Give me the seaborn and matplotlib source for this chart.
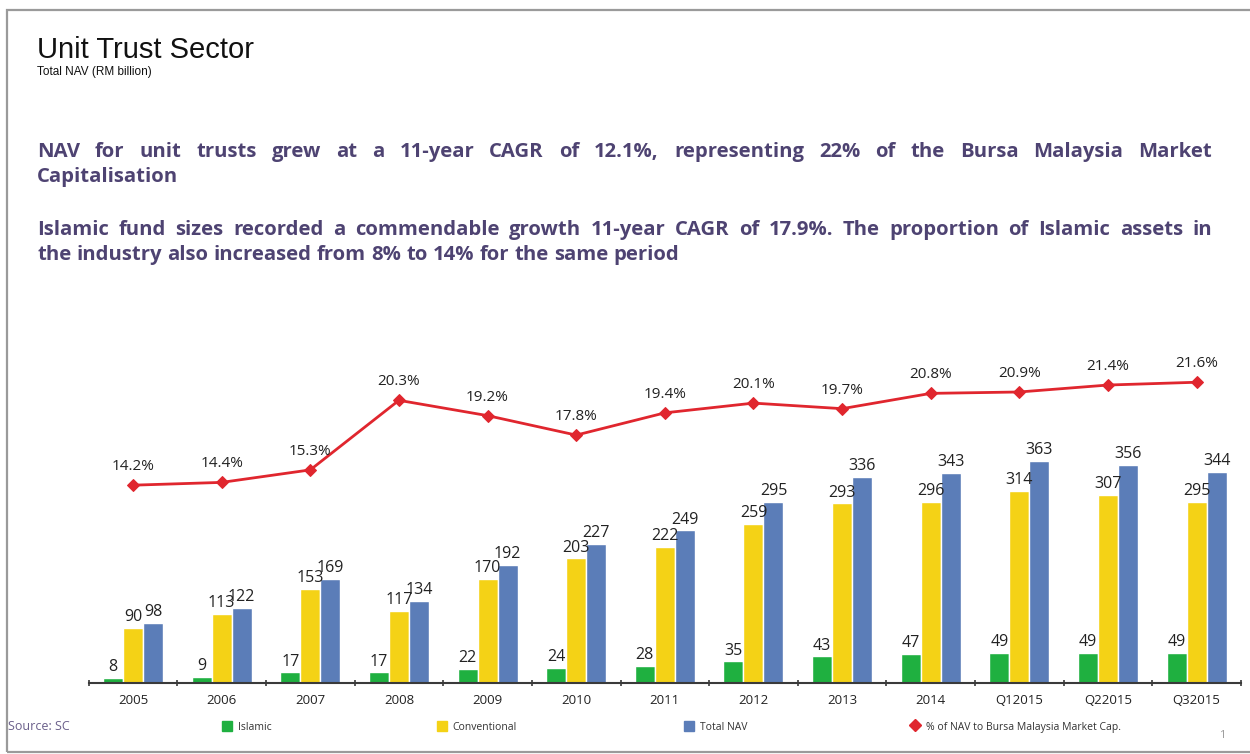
import numpy as np
import pandas as pd
import matplotlib
matplotlib.use("Agg")
import matplotlib.pyplot as plt
from matplotlib.patches import Patch, Rectangle
from matplotlib.lines import Line2D
import seaborn as sns

# Data
periods = ["2005", "2006", "2007", "2008", "2009", "2010", "2011", "2012",
           "2013", "2014", "Q12015", "Q22015", "Q32015"]
islamic = [8, 9, 17, 17, 22, 24, 28, 35, 43, 47, 49, 49, 49]
conventional = [90, 113, 153, 117, 170, 203, 222, 259, 293, 296, 314, 307, 295]
total_nav = [98, 122, 169, 134, 192, 227, 249, 295, 336, 343, 363, 356, 344]
pct_mcap = [14.2, 14.4, 15.3, 20.3, 19.2, 17.8, 19.4, 20.1, 19.7, 20.8, 20.9, 21.4, 21.6]

series_names = ["Islamic", "Conventional", "Total NAV"]
line_name = "% of NAV to Bursa Malaysia Market Cap."

GREEN, YELLOW, BLUE, RED = "#1fb040", "#f4d216", "#5b7db8", "#e0262e"
PURPLE = "#4e4372"

df = pd.DataFrame({
    "period": periods * 3,
    "series": np.repeat(series_names, len(periods)),
    "value": islamic + conventional + total_nav,
})

sns.set_theme(style="white")
plt.rcParams["font.family"] = ["Open Sans", "DejaVu Sans"]

W, H = 1250, 754
fig = plt.figure(figsize=(W / 100, H / 100), dpi=100)
fig.patch.set_facecolor("white")


def fx(x):
    return x / W


def fy(y):
    return 1 - y / H


# slide frame
fig.patches.append(Rectangle((fx(7), fy(752)), fx(1300 - 7), (752 - 10) / H,
                             transform=fig.transFigure, fill=False,
                             edgecolor="#9a9a9a", lw=1.6, clip_on=False))

# headings
fig.text(fx(37), fy(58), "Unit Trust Sector", fontsize=21,
         family="Liberation Sans", color="#111", va="baseline")
fig.text(fx(37), fy(75), "Total NAV (RM billion)", fontsize=8.5,
         family="Liberation Sans", color="#111", va="baseline")


def justified(line, y, x0, x1, justify=True, **kw):
    # lay words out one by one so the line fills x0..x1 like the slide
    words = line.split()
    texts = [fig.text(0, 0, w, va="baseline", **kw) for w in words]
    r = fig.canvas.get_renderer()
    widths = [t.get_window_extent(r).width for t in texts]
    probe = fig.text(0, 0, "a a", **kw)
    probe2 = fig.text(0, 0, "aa", **kw)
    sp = probe.get_window_extent(r).width - probe2.get_window_extent(r).width
    probe.remove()
    probe2.remove()
    gap = (x1 - x0 - sum(widths)) / (len(words) - 1) if justify else sp
    x = x0
    for t, w in zip(texts, widths):
        t.set_position((fx(x), fy(y)))
        x += w + gap


kw = dict(fontsize=14.6, fontweight="bold", color=PURPLE)
justified("NAV for unit trusts grew at a 11-year CAGR of 12.1%, representing 22% "
          "of the Bursa Malaysia Market", 157, 37, 1212, **kw)
justified("Capitalisation", 182, 37, 1212, justify=False, **kw)
justified("Islamic fund sizes recorded a commendable growth 11-year CAGR of 17.9%. "
          "The proportion of Islamic assets in", 235, 37, 1212, **kw)
justified("the industry also increased from 8% to 14% for the same period",
          260, 37, 1212, justify=False, **kw)

# chart
ax = fig.add_axes([fx(88.7), fy(682.7), 1152.3 / W, (682.7 - 350) / H])
ax.patch.set_alpha(0)
sns.barplot(data=df, x="period", y="value", hue="series", order=periods,
            hue_order=series_names, palette=[GREEN, YELLOW, BLUE],
            width=0.677, gap=0, saturation=1, legend=False, ax=ax)
for cont in ax.containers:
    ax.bar_label(cont, fmt="%d", padding=2, fontsize=11.5, color="#222")

ax.set_ylim(0, 332.7 / 0.612)
ax.set_xlim(-0.5, len(periods) - 0.5)
ax.set_xlabel("")
ax.set_ylabel("")
ax.set_yticks([])
for s in ["top", "left", "right"]:
    ax.spines[s].set_visible(False)
ax.spines["bottom"].set_color("#3a3a3a")
ax.spines["bottom"].set_linewidth(1.5)
ax.set_xticks(range(len(periods)), labels=periods)
ax.set_xticks(np.arange(-0.5, len(periods)), minor=True)
ax.tick_params(axis="x", which="major", length=0, pad=8, labelsize=9.5, labelcolor="#222")
ax.tick_params(axis="x", which="minor", length=4, width=1.2, color="#3a3a3a",
               direction="inout", bottom=True)

ax2 = ax.twinx()
sns.lineplot(x=np.arange(len(periods)), y=pct_mcap, ax=ax2, color=RED,
             marker="D", markersize=6, markeredgecolor=RED, linewidth=2)
for i, v in enumerate(pct_mcap):
    ax2.annotate(f"{v:.1f}%", (i, v), xytext=(0, 8), textcoords="offset points",
                 ha="center", va="bottom", fontsize=11, color="#222")
ax2.set_ylim(0, 332.7 / 13.91)
ax2.set_xlim(-0.5, len(periods) - 0.5)
ax2.set_yticks([])
ax2.set_ylabel("")
for s in ax2.spines.values():
    s.set_visible(False)

# legend along the bottom
handles = [Patch(color=GREEN), Patch(color=YELLOW), Patch(color=BLUE),
           Line2D([], [], color=RED, marker="D", linestyle="none", markersize=6)]
labels = series_names + [line_name]
lefts = [222, 437, 684, 910]
for h, lab, x in zip(handles, labels, lefts):
    fig.legend(handles=[h], labels=[lab], loc="center left",
               bbox_to_anchor=(fx(x), fy(727)), frameon=False, borderpad=0,
               borderaxespad=0, handlelength=1.0, handleheight=1.0,
               handletextpad=0.5, prop={"size": 7.5}, labelcolor="#333")

fig.text(fx(8), fy(727), "Source: SC", fontsize=9, color="#6a5f8a", va="center")
fig.text(fx(1219), fy(735), "1", fontsize=8, color="#999", va="center")

fig.savefig("out.png", dpi=100, facecolor="white")
